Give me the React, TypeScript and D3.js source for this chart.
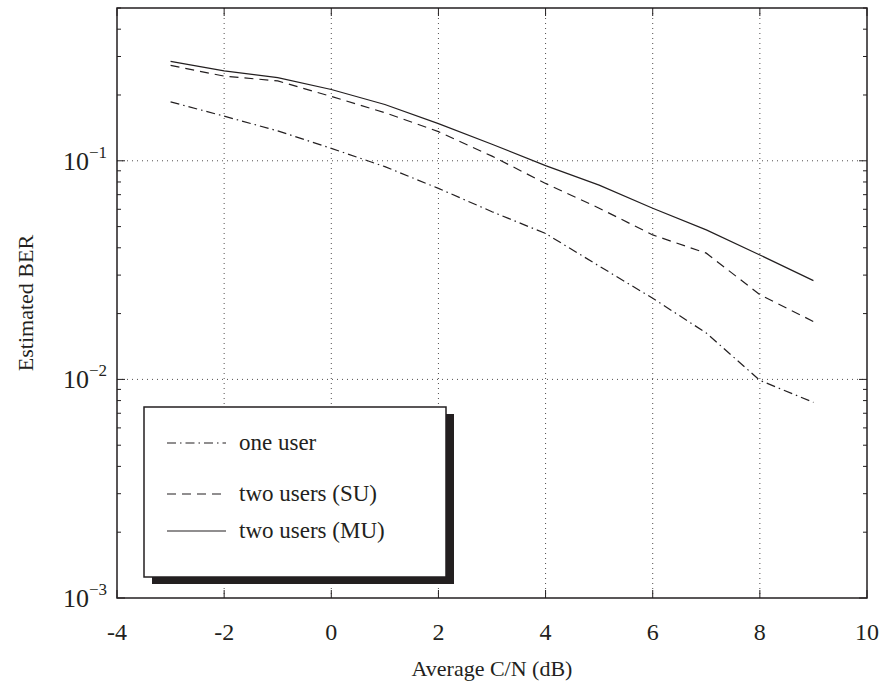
import React from 'react';
import * as d3 from 'd3';

// Sizes and margins for the chart
const W = 894;
const H = 690;
const margin = { top: 8, right: 27, bottom: 92, left: 117 };
const width = W - margin.left - margin.right;
const height = H - margin.top - margin.bottom;

const snr = [-3, -2, -1, 0, 1, 2, 3, 4, 5, 6, 7, 8, 9];
const oneUser = [0.186, 0.16, 0.137, 0.114, 0.094, 0.0748, 0.0585, 0.0465, 0.033, 0.0235, 0.0163, 0.0099, 0.00785];
const twoUsersSU = [0.273, 0.244, 0.232, 0.197, 0.166, 0.136, 0.105, 0.0788, 0.0607, 0.0458, 0.0378, 0.0244, 0.0184];
const twoUsersMU = [0.285, 0.258, 0.24, 0.212, 0.181, 0.148, 0.119, 0.095, 0.0774, 0.0607, 0.0483, 0.0371, 0.0283];

const xTicks = [-4, -2, 0, 2, 4, 6, 8, 10];
const yTicks = [1e-3, 1e-2, 1e-1];
const yTickExp = ['−3', '−2', '−1'];

const series = [
    { name: 'one user', values: oneUser, dash: '9,4,1.5,4' },
    { name: 'two users (SU)', values: twoUsersSU, dash: '9,6' },
    { name: 'two users (MU)', values: twoUsersMU, dash: null },
];

const ink = '#231f20';
const fontStyle = { fontFamily: "'Liberation Serif', 'Times New Roman', Times, 'DejaVu Serif'" };

export default function App() {
    const x = d3.scaleLinear().domain([-4, 10]).range([0, width]);
    const y = d3.scaleLog().domain([1e-3, 0.5]).range([height, 0]);

    const line = d3.line<number>()
        .x((_, i) => x(snr[i]))
        .y((d) => y(d));

    // minor ticks for log axis: 2..9 of each decade, up to 0.5
    const minor: number[] = [];
    [1e-3, 1e-2, 1e-1].forEach((dec) => {
        for (let k = 2; k <= 9; k++) {
            const v = dec * k;
            if (v <= 0.5) minor.push(v);
        }
    });

    const legend = { x: 144 - margin.left, y: 407 - margin.top, w: 302, h: 170 };
    const legendRows = [443, 494, 531].map((v) => v - margin.top);

    return (
        <svg width={W} height={H} style={{ position: 'absolute', left: 0, top: 0, background: '#fff' }}>
            <g transform={`translate(${margin.left},${margin.top})`}>
                {/* grid */}
                {xTicks.slice(1, -1).map((t) => (
                    <line key={'gx' + t} x1={x(t)} x2={x(t)} y1={0} y2={height}
                        stroke={ink} strokeWidth={0.8} strokeDasharray="1,4" />
                ))}
                {yTicks.slice(1).map((t) => (
                    <line key={'gy' + t} x1={0} x2={width} y1={y(t)} y2={y(t)}
                        stroke={ink} strokeWidth={0.8} strokeDasharray="1,4" />
                ))}

                {/* series */}
                {series.map((s) => (
                    <path key={s.name} d={line(s.values) || ''} fill="none" stroke={ink}
                        strokeWidth={1.2} strokeDasharray={s.dash || undefined} />
                ))}

                {/* ticks */}
                {xTicks.map((t) => (
                    <g key={'tx' + t}>
                        <line x1={x(t)} x2={x(t)} y1={height} y2={height - 8} stroke={ink} strokeWidth={1} />
                        <line x1={x(t)} x2={x(t)} y1={0} y2={8} stroke={ink} strokeWidth={1} />
                        <text x={x(t)} y={height + 42} textAnchor="middle" style={fontStyle} fontSize={24} fill={ink}>
                            {t}
                        </text>
                    </g>
                ))}
                {yTicks.map((t, i) => (
                    <g key={'ty' + t}>
                        <line x1={0} x2={8} y1={y(t)} y2={y(t)} stroke={ink} strokeWidth={1} />
                        <line x1={width} x2={width - 8} y1={y(t)} y2={y(t)} stroke={ink} strokeWidth={1} />
                        <text x={-10} y={y(t) + 9} textAnchor="end" style={fontStyle} fontSize={26} fill={ink}>
                            10<tspan fontSize={17} dy={-12}>{yTickExp[i]}</tspan>
                        </text>
                    </g>
                ))}
                {minor.map((t) => (
                    <g key={'my' + t}>
                        <line x1={0} x2={4} y1={y(t)} y2={y(t)} stroke={ink} strokeWidth={1} />
                        <line x1={width} x2={width - 4} y1={y(t)} y2={y(t)} stroke={ink} strokeWidth={1} />
                    </g>
                ))}

                {/* frame */}
                <rect x={0} y={0} width={width} height={height} fill="none" stroke={ink} strokeWidth={1.5} />

                {/* legend */}
                <rect x={legend.x + 8} y={legend.y + 7} width={legend.w} height={legend.h} fill={ink} />
                <rect x={legend.x} y={legend.y} width={legend.w} height={legend.h} fill="#fff" stroke={ink} strokeWidth={1.5} />
                {series.map((s, i) => (
                    <g key={'lg' + s.name}>
                        <line x1={167 - margin.left} x2={226 - margin.left} y1={legendRows[i]} y2={legendRows[i]}
                            stroke={ink} strokeWidth={1.2} strokeDasharray={s.dash || undefined} />
                        <text x={239 - margin.left} y={legendRows[i] + 7} style={fontStyle} fontSize={23} fill={ink}>
                            {s.name}
                        </text>
                    </g>
                ))}
            </g>

            {/* axis labels */}
            <text x={margin.left + width / 2} y={676} textAnchor="middle" style={fontStyle} fontSize={22} fill={ink}>
                Average C/N (dB)
            </text>
            <text transform={`translate(33,${margin.top + height / 2}) rotate(-90)`} textAnchor="middle"
                style={fontStyle} fontSize={22} fill={ink}>
                Estimated BER
            </text>
        </svg>
    );
}
